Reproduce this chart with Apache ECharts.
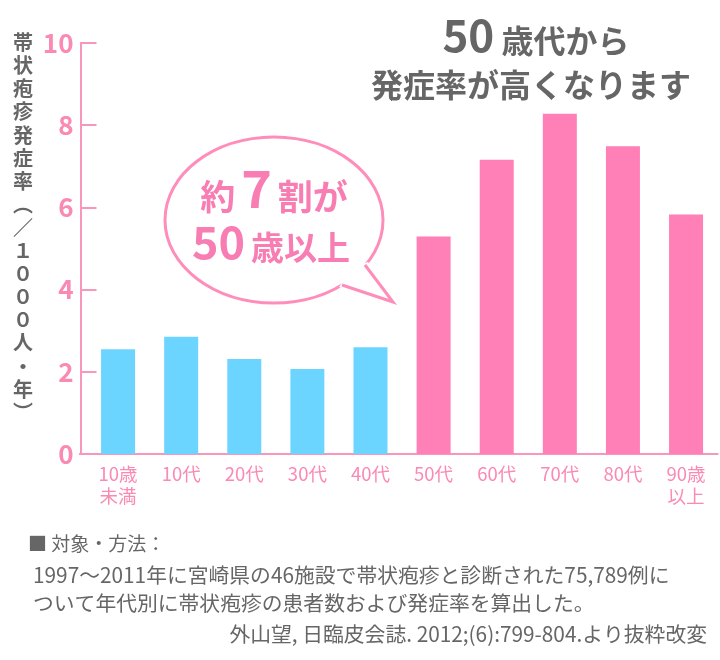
<!DOCTYPE html>
<html>
<head>
<meta charset="utf-8">
<script src="https://cdn.jsdelivr.net/npm/echarts@6/dist/echarts.min.js"></script>
<style>
html,body{margin:0;padding:0;background:#fff;}
#main{width:720px;height:660px;}
</style>
</head>
<body>
<div id="main"></div>
<script>
// ---- data ----
const categories = ['10歳\n未満', '10代', '20代', '30代', '40代', '50代', '60代', '70代', '80代', '90歳\n以上'];
const rates = [2.55, 2.85, 2.31, 2.07, 2.60, 5.29, 7.16, 8.28, 7.49, 5.83];
const is50plus = [false, false, false, false, false, true, true, true, true, true];
const yTicks = [0, 2, 4, 6, 8, 10];
const yAxisTitle = '帯状疱疹発症率︵／１０００人・年︶';
const footerLines = [
  '■ 対象・方法：',
  '1997〜2011年に宮崎県の46施設で帯状疱疹と診断された75,789例に',
  'ついて年代別に帯状疱疹の患者数および発症率を算出した。'
];
const sourceText = '外山望, 日臨皮会誌. 2012;(6):799-804.より抜粋改変';

const BLUE = '#6BD5FF';
const PINK = '#FF7FB7';
const AXIS_PINK = '#F996BC';
const LABEL_PINK = '#FA89B4';
const GRAY = '#666666';
const FONT = '"Noto Sans CJK JP", "Noto Sans", sans-serif';

const chart = echarts.init(document.getElementById('main'), null, {renderer: 'canvas'});

const option = {
  backgroundColor: '#ffffff',
  animation: false,
  textStyle: {fontFamily: FONT},
  grid: {left: 86.5, right: 2.4, top: 43, bottom: 206, containLabel: false},
  xAxis: {
    type: 'category',
    data: categories,
    axisLine: {lineStyle: {color: AXIS_PINK, width: 2}},
    axisTick: {show: false},
    axisLabel: {
      color: LABEL_PINK, fontSize: 18.5, lineHeight: 22, margin: 9,
      fontFamily: FONT, interval: 0
    }
  },
  yAxis: {
    type: 'value',
    min: yTicks[0],
    max: yTicks[yTicks.length - 1],
    interval: yTicks[1] - yTicks[0],
    offset: 6,
    axisLine: {show: true, lineStyle: {color: AXIS_PINK, width: 2}},
    axisTick: {show: true, inside: true, length: 16, lineStyle: {color: AXIS_PINK, width: 2}},
    splitLine: {show: false},
    axisLabel: {color: LABEL_PINK, fontSize: 26, fontWeight: 'bold', margin: 7, fontFamily: FONT}
  },
  series: [{
    type: 'bar',
    barWidth: 34,
    data: rates.map((v, i) => ({
      value: v,
      itemStyle: {color: is50plus[i] ? PINK : BLUE}
    }))
  }],
  graphic: [
    // small extension of the x axis line to meet the y axis
    {type: 'line', shape: {x1: 79, y1: 454, x2: 87, y2: 454}, style: {stroke: AXIS_PINK, lineWidth: 2}},
    // y axis title (vertical)
    {
      type: 'text', x: 23, y: 31,
      style: {
        text: yAxisTitle.split('').join('\n'),
        fill: GRAY, font: 'bold 20px ' + FONT, lineHeight: 23.1, align: 'center', verticalAlign: 'top'
      }
    },
    // headline
    {
      type: 'text', x: 536, y: 57,
      style: {
        text: '{a|50}{b| 歳代から}',
        align: 'center', verticalAlign: 'bottom',
        rich: {
          a: {font: 'bold 44px ' + FONT, fill: GRAY, verticalAlign: 'bottom', lineHeight: 46},
          b: {font: 'bold 32px ' + FONT, fill: GRAY, verticalAlign: 'bottom', lineHeight: 40}
        }
      }
    },
    {
      type: 'text', x: 531, y: 85,
      style: {
        text: '発症率が高くなります',
        align: 'center', verticalAlign: 'middle',
        font: 'bold 32px ' + FONT, fill: GRAY
      }
    },
    // speech bubble
    {
      type: 'ellipse', shape: {cx: 274, cy: 220, rx: 109, ry: 83},
      style: {fill: '#ffffff', stroke: '#FF8DBA', lineWidth: 3}
    },
    {
      type: 'polygon', shape: {points: [[339, 287], [393, 302], [368, 262], [352, 268]]},
      style: {fill: '#ffffff'}
    },
    {
      type: 'polyline', shape: {points: [[342, 285], [393, 302], [365, 265]]},
      style: {stroke: '#FF8DBA', lineWidth: 3, fill: null}
    },
    {
      type: 'text', x: 274, y: 214,
      style: {
        text: '{k|約}{n|7}{k|割が}',
        align: 'center', verticalAlign: 'bottom',
        rich: {
          k: {font: 'bold 35px ' + FONT, fill: '#F77DB3', verticalAlign: 'bottom', lineHeight: 40, padding: [0, 2, 0, 2]},
          n: {font: 'bold 52px ' + FONT, fill: '#F77DB3', verticalAlign: 'bottom', lineHeight: 56, padding: [0, 4, 0, 4]}
        }
      }
    },
    {
      type: 'text', x: 271, y: 264,
      style: {
        text: '{n|50}{k|歳以上}',
        align: 'center', verticalAlign: 'bottom',
        rich: {
          k: {font: 'bold 33px ' + FONT, fill: '#F77DB3', verticalAlign: 'bottom', lineHeight: 40, padding: [0, 0, 0, 6]},
          n: {font: 'bold 45px ' + FONT, fill: '#F77DB3', verticalAlign: 'bottom', lineHeight: 50}
        }
      }
    },
    // footer
    {
      type: 'text', x: 28, y: 544,
      style: {text: footerLines[0], fill: GRAY, font: '19px ' + FONT, verticalAlign: 'middle'}
    },
    {
      type: 'text', x: 33, y: 575,
      style: {text: footerLines[1], fill: GRAY, font: '20.8px ' + FONT, verticalAlign: 'middle'}
    },
    {
      type: 'text', x: 33, y: 603,
      style: {text: footerLines[2], fill: GRAY, font: '20.8px ' + FONT, verticalAlign: 'middle'}
    },
    {
      type: 'text', x: 707, y: 634,
      style: {text: sourceText, fill: GRAY, font: '20.8px ' + FONT, align: 'right', verticalAlign: 'middle'}
    }
  ]
};

chart.setOption(option);
</script>
</body>
</html>
